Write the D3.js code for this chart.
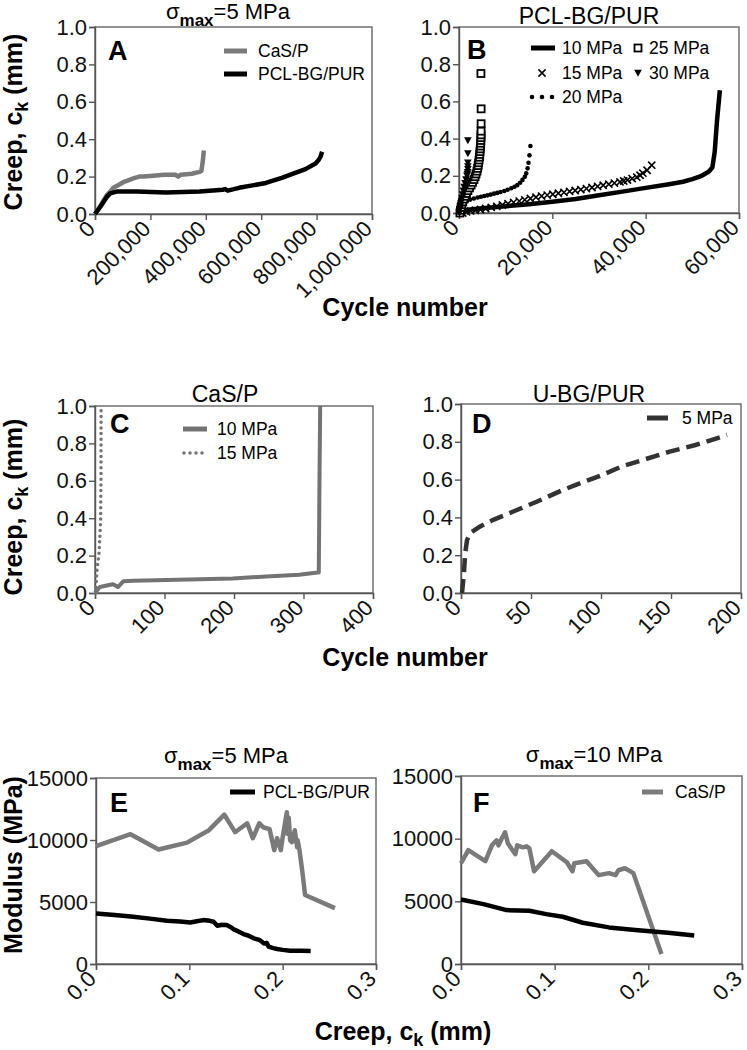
<!DOCTYPE html>
<html><head><meta charset="utf-8">
<script src="https://cdn.jsdelivr.net/npm/d3@7"></script>
<style>body{margin:0;background:#fff}</style>
</head><body>
<script>
// ---------- DATA ----------
// Panel A (sigma max = 5 MPa): creep vs cycle number
const aCaSP = [[0,0],[5000,0.01],[18000,0.04],[30000,0.07],[42000,0.1],[55000,0.12],[66000,0.14],[85000,0.155],[102000,0.17],[120000,0.18],[138000,0.19],[160000,0.2],[174000,0.2],[210000,0.205],[250000,0.21],[290000,0.21],[300000,0.2],[310000,0.21],[350000,0.215],[377000,0.225],[384000,0.23],[389000,0.28],[393000,0.34]];
const aPCL = [[0,0],[20000,0.04],[42000,0.09],[55000,0.11],[78000,0.12],[150000,0.12],[257000,0.115],[377000,0.12],[461000,0.13],[470000,0.133],[479000,0.125],[520000,0.14],[569000,0.153],[617000,0.166],[677000,0.195],[713000,0.215],[760000,0.24],[796000,0.27],[808000,0.29],[814000,0.306],[820000,0.333]];
// Panel B (PCL-BG/PUR), x in cycles
const b10 = [[0,0],[500,0.01],[2000,0.018],[5000,0.025],[10000,0.036],[15000,0.047],[20000,0.06],[25000,0.075],[30000,0.095],[35000,0.115],[40000,0.135],[45000,0.155],[48000,0.168],[50000,0.182],[52000,0.2],[53500,0.222],[54300,0.245],[54800,0.33],[55300,0.5],[55900,0.66]];
const b15 = [[800,0],[1600,0.006],[2500,0.011],[3500,0.015],[4600,0.019],[5700,0.024],[6900,0.03],[8100,0.036],[9300,0.043],[10500,0.05],[11700,0.057],[12900,0.064],[14100,0.071],[15300,0.078],[16500,0.085],[17700,0.091],[18900,0.096],[20100,0.101],[21300,0.106],[22500,0.111],[23700,0.116],[24900,0.121],[26100,0.126],[27300,0.131],[28500,0.137],[29700,0.143],[30900,0.149],[32100,0.155],[33300,0.161],[34500,0.167],[35300,0.172],[36100,0.177],[37100,0.185],[38100,0.193],[38800,0.203],[39400,0.214],[40300,0.23],[41300,0.257]];
const b20 = [[100,0],[200,0.02],[350,0.035],[600,0.05],[1200,0.058],[1700,0.065],[2400,0.072],[3200,0.078],[4000,0.083],[4700,0.087],[5400,0.091],[6100,0.095],[6800,0.099],[7500,0.104],[8200,0.108],[8900,0.113],[9700,0.118],[10400,0.125],[11200,0.133],[11900,0.141],[12500,0.15],[13100,0.163],[13600,0.178],[14100,0.195],[14400,0.213],[14700,0.24],[14900,0.27],[15100,0.31],[15300,0.36]];
const b25 = [[200,0],[300,0.015],[450,0.03],[600,0.045],[800,0.06],[1050,0.075],[1300,0.09],[1600,0.105],[1900,0.12],[2250,0.135],[2600,0.15],[2900,0.165],[3200,0.18],[3450,0.195],[3650,0.21],[3850,0.225],[4000,0.24],[4100,0.255],[4200,0.27],[4300,0.285],[4380,0.3],[4450,0.315],[4500,0.33],[4550,0.345],[4600,0.36],[4650,0.375],[4680,0.39],[4700,0.405],[4720,0.42],[4730,0.44],[4740,0.48],[4740,0.56],[4700,0.75]];
const b30 = [[100,0],[200,0.02],[350,0.04],[500,0.06],[650,0.08],[800,0.1],[950,0.12],[1100,0.14],[1300,0.16],[1500,0.18],[1700,0.2],[1800,0.21],[1850,0.22],[1900,0.235],[1900,0.25],[1900,0.27],[1900,0.32],[1900,0.39]];
// Panel C (CaS/P)
const c10 = [[0,0],[7,0.032],[17,0.04],[26,0.047],[33,0.032],[41,0.063],[55,0.065],[103,0.07],[150,0.073],[198,0.078],[246,0.088],[294,0.098],[320,0.11],[322,0.11],[323,0.6],[324,1.0]];
const c15 = [[1,0],[2.4,0.1],[4,0.16],[5.7,0.21],[7,0.3],[8.1,0.39],[8.6,0.6],[8.8,1.0]];
// Panel D (U-BG/PUR)
const d5 = [[0.7,0],[1.9,0.088],[3,0.21],[4.3,0.28],[6.6,0.317],[13.7,0.352],[23,0.387],[37,0.43],[54,0.483],[73,0.546],[92,0.6],[101,0.625],[115,0.67],[130,0.704],[149,0.748],[167.5,0.783],[190,0.836]];
// Panel E (sigma max = 5 MPa): modulus vs creep
const eCaSP = [[0,9500],[0.037,10470],[0.067,9230],[0.0975,9790],[0.121,10790],[0.1375,12050],[0.149,10630],[0.162,11350],[0.168,10140],[0.175,11350],[0.179,11030],[0.186,10870],[0.191,9180],[0.194,10140],[0.198,9180],[0.2,10220],[0.2045,12240],[0.205,10500],[0.2065,11800],[0.208,9980],[0.21,9820],[0.213,10790],[0.2155,9420],[0.216,9980],[0.218,9180],[0.221,7500],[0.224,5560],[0.256,4510]];
const ePCL = [[0,4080],[0.02,3950],[0.04,3810],[0.06,3640],[0.076,3490],[0.09,3420],[0.101,3350],[0.108,3450],[0.115,3540],[0.122,3480],[0.126,3410],[0.13,3090],[0.135,3160],[0.14,3140],[0.145,2950],[0.1475,2790],[0.152,2650],[0.158,2415],[0.163,2300],[0.169,2070],[0.175,1950],[0.18,1660],[0.183,1700],[0.185,1395],[0.19,1280],[0.194,1210],[0.2,1140],[0.208,1070],[0.22,1060],[0.23,1050]];
// Panel F (sigma max = 10 MPa)
const fCaSP = [[0,8040],[0.0078,9080],[0.026,8200],[0.033,9470],[0.038,9870],[0.04,9470],[0.0436,10030],[0.047,10510],[0.05,9630],[0.055,9080],[0.058,8760],[0.06,9470],[0.066,9310],[0.07,9390],[0.073,9230],[0.078,7400],[0.097,9000],[0.113,8120],[0.119,7400],[0.121,8040],[0.134,8200],[0.147,7090],[0.158,7250],[0.165,7090],[0.168,7480],[0.175,7640],[0.184,7250],[0.214,800]];
const fPCL = [[0,5150],[0.024,4780],[0.0486,4300],[0.073,4250],[0.091,3980],[0.1086,3770],[0.13,3290],[0.158,2920],[0.186,2710],[0.221,2500],[0.249,2280]];
// Ticks
const creepTicks = [0,0.2,0.4,0.6,0.8,1.0];
const aXTicks = [0,200000,400000,600000,800000,1000000];
const bXTicks = [0,20000,40000,60000];
const cXTicks = [0,100,200,300,400];
const dXTicks = [0,50,100,150,200];
const modTicks = [0,5000,10000,15000];
const ckTicks = [0,0.1,0.2,0.3];

// ---------- DRAW ----------
const FONT = "'Liberation Sans', Arial, Helvetica, sans-serif";
const GRAY = "#7a7a7a";
const svg = d3.select("body").append("svg").attr("width",747).attr("height",1050)
  .attr("font-family",FONT);

function panel(c){
  const g = svg.append("g");
  const x = d3.scaleLinear().domain(c.xd).range([c.l,c.r]);
  const y = d3.scaleLinear().domain(c.yd).range([c.b,c.t]);
  g.append("rect").attr("x",c.l).attr("y",c.t).attr("width",c.r-c.l).attr("height",c.b-c.t)
    .attr("fill","none").attr("stroke","#666").attr("stroke-width",1.4);
  const ya = g.append("g").attr("transform",`translate(${c.l},0)`)
    .call(d3.axisLeft(y).tickValues(c.yt).tickFormat(c.yf).tickSize(6).tickPadding(2));
  const xa = g.append("g").attr("transform",`translate(0,${c.b})`)
    .call(d3.axisBottom(x).tickValues(c.xt).tickFormat(c.xf).tickSize(6));
  [ya,xa].forEach(a=>{
    a.attr("font-family",FONT).attr("font-size",22);
    a.select(".domain").attr("stroke","#555").attr("stroke-width",1.4);
    a.selectAll(".tick line").attr("stroke","#555").attr("stroke-width",1.4);
    a.selectAll("text").attr("fill","#111");
  });
  xa.selectAll("text").attr("x",0).attr("y",0).attr("dy",0).attr("text-anchor","end")
    .attr("transform","translate(1,16) rotate(-45)");
  return {g,x,y};
}
function line(p,data,stroke,w,dash,cap){
  p.g.append("path").datum(data)
    .attr("d",d3.line().x(d=>p.x(d[0])).y(d=>p.y(d[1])))
    .attr("fill","none").attr("stroke",stroke).attr("stroke-width",w)
    .attr("stroke-linejoin","round").attr("stroke-linecap",cap||"butt")
    .attr("stroke-dasharray",dash||null);
}
function text(x,y,s,opts){
  const t = svg.append("text").attr("x",x).attr("y",y).text(s)
    .attr("font-size",opts.size).attr("font-weight",opts.bold?"bold":"normal")
    .attr("text-anchor",opts.anchor||"start").attr("fill","#000");
  if(opts.dy) t.attr("dy",opts.dy);
  return t;
}
function sigmaTitle(cx,y,val){
  const t = svg.append("text").attr("x",cx).attr("y",y).attr("text-anchor","middle").attr("font-size",22);
  t.append("tspan").text("σ");
  t.append("tspan").text("max").attr("font-weight","bold").attr("font-size",17).attr("dy",7);
  t.append("tspan").text("="+val+" MPa").attr("dy",-7);
}
function legLine(x1,x2,y,stroke,w,dash,cap,label,tx){
  svg.append("line").attr("x1",x1).attr("x2",x2).attr("y1",y).attr("y2",y)
    .attr("stroke",stroke).attr("stroke-width",w).attr("stroke-dasharray",dash||null)
    .attr("stroke-linecap",cap||"butt");
  text(tx,y,label,{size:17.5,dy:"0.35em"});
}
function yTitle(cx,cy,parts){
  const t = svg.append("text").attr("transform",`translate(${cx},${cy}) rotate(-90)`)
    .attr("text-anchor","middle").attr("font-size",25).attr("font-weight","bold");
  parts(t);
}
function creepLabel(t){
  t.append("tspan").text("Creep, c");
  t.append("tspan").text("k").attr("font-size",18).attr("dy",6);
  t.append("tspan").text(" (mm)").attr("dy",-6);
}
const fmt1 = d3.format(".1f");
const fmtC = d3.format(",");

// Panel A
const A = panel({l:95,r:372,t:27,b:214,xd:[0,1000000],yd:[0,1],xt:aXTicks,yt:creepTicks,xf:fmtC,yf:fmt1});
line(A,aCaSP,GRAY,4.5);
line(A,aPCL,"#000",4.5);
sigmaTitle(228,19,"5");
text(108,60,"A",{size:27,bold:true});
legLine(224,247,51,GRAY,5,null,"butt","CaS/P",258);
legLine(224,247,74,"#000",5,null,"butt","PCL-BG/PUR",258);

// Panel B
const B = panel({l:459,r:739,t:27,b:213,xd:[0,60000],yd:[0,1],xt:bXTicks,yt:creepTicks,xf:fmtC,yf:fmt1});
line(B,b10,"#000",4.5);
const crossP = "M-3.6,-3.6L3.6,3.6M-3.6,3.6L3.6,-3.6";
const triP = "M-3.8,-3.2L3.8,-3.2L0,3.8Z";
B.g.append("g").selectAll("path").data(b15).join("path")
  .attr("transform",d=>`translate(${B.x(d[0])},${B.y(d[1])})`).attr("d",crossP)
  .attr("stroke","#000").attr("stroke-width",1.6).attr("fill","none");
B.g.append("g").selectAll("circle").data(b20).join("circle")
  .attr("cx",d=>B.x(d[0])).attr("cy",d=>B.y(d[1])).attr("r",2.3).attr("fill","#000");
B.g.append("g").selectAll("rect").data(b25).join("rect")
  .attr("x",d=>B.x(d[0])-3.5).attr("y",d=>B.y(d[1])-3.5).attr("width",7).attr("height",7)
  .attr("fill","#fff").attr("stroke","#000").attr("stroke-width",1.8);
B.g.append("g").selectAll("path").data(b30).join("path")
  .attr("transform",d=>`translate(${B.x(d[0])},${B.y(d[1])})`).attr("d",triP).attr("fill","#000");
text(589,24,"PCL-BG/PUR",{size:23,anchor:"middle"});
text(467,59,"B",{size:27,bold:true});
legLine(531,555,48,"#000",5,null,"butt","10 MPa",562);
svg.append("path").attr("transform","translate(542,73)").attr("d",crossP).attr("stroke","#000").attr("stroke-width",1.6);
text(562,73,"15 MPa",{size:17.5,dy:"0.35em"});
[532,542,552].forEach(cx=>svg.append("circle").attr("cx",cx).attr("cy",97).attr("r",2.3));
text(562,97,"20 MPa",{size:17.5,dy:"0.35em"});
svg.append("rect").attr("x",634.5).attr("y",44.5).attr("width",7).attr("height",7).attr("fill","#fff").attr("stroke","#000").attr("stroke-width",1.8);
text(649,48,"25 MPa",{size:17.5,dy:"0.35em"});
svg.append("path").attr("transform","translate(638,73)").attr("d",triP);
text(649,73,"30 MPa",{size:17.5,dy:"0.35em"});

// Cycle number label 1
text(405,316,"Cycle number",{size:25,bold:true,anchor:"middle"});

// Panel C
const C = panel({l:95,r:373,t:406,b:593,xd:[0,400],yd:[0,1],xt:cXTicks,yt:creepTicks,xf:d3.format("d"),yf:fmt1});
line(C,c10,"#737373",4);
line(C,c15,"#737373",3.5,"0,5.7","round");
text(225,402,"CaS/P",{size:23,anchor:"middle"});
text(110,433,"C",{size:27,bold:true});
legLine(183,207,429,"#737373",5,null,"butt","10 MPa",217);
legLine(184,208,453,"#737373",3.5,"0,6","round","15 MPa",217);

// Panel D
const D = panel({l:461,r:741,t:404,b:593,xd:[0,200],yd:[0,1],xt:dXTicks,yt:creepTicks,xf:d3.format("d"),yf:fmt1});
line(D,d5,"#333",4.5,"14,7");
text(589,402,"U-BG/PUR",{size:23,anchor:"middle"});
text(472,433,"D",{size:27,bold:true});
legLine(647,668,418,"#333",5,null,"butt","5 MPa",682);

// Cycle number label 2
text(405,666,"Cycle number",{size:25,bold:true,anchor:"middle"});

// Panel E
const E = panel({l:96,r:376,t:778,b:964,xd:[0,0.3],yd:[0,15000],xt:ckTicks,yt:modTicks,xf:fmt1,yf:d3.format("d")});
line(E,eCaSP,GRAY,4.5);
line(E,ePCL,"#000",4.5);
sigmaTitle(226,763,"5");
text(110,812,"E",{size:27,bold:true});
legLine(230,255,792,"#000",5,null,"butt","PCL-BG/PUR",263);

// Panel F
const F = panel({l:461,r:742,t:776,b:964,xd:[0,0.3],yd:[0,15000],xt:ckTicks,yt:modTicks,xf:fmt1,yf:d3.format("d")});
line(F,fCaSP,GRAY,4.5);
line(F,fPCL,"#000",4.5);
sigmaTitle(594,762,"10");
text(473,812,"F",{size:27,bold:true});
legLine(642,663,792,GRAY,5,null,"butt","CaS/P",675);

// axis titles
yTitle(22,122,creepLabel);
yTitle(22,507,creepLabel);
yTitle(22,865,t=>t.text("Modulus (MPa)"));
const bt = svg.append("text").attr("x",403).attr("y",1040).attr("text-anchor","middle").attr("font-size",25).attr("font-weight","bold");
creepLabel(bt);
</script>
</body></html>
